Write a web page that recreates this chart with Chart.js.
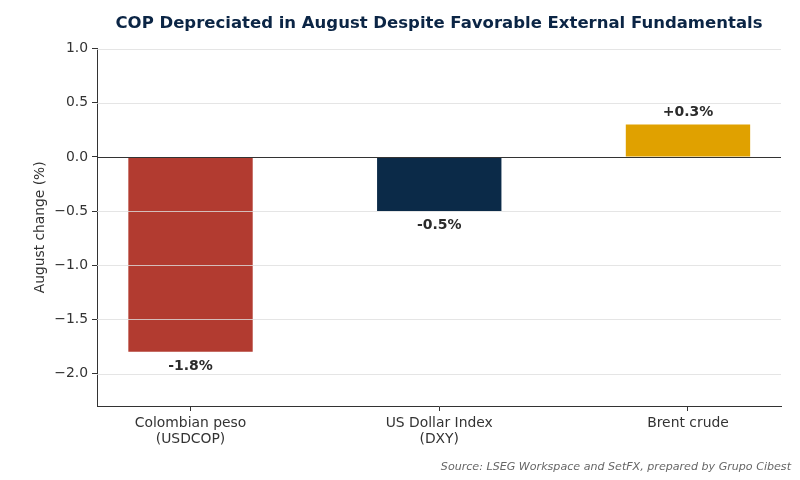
<!DOCTYPE html>
<html>
<head>
<meta charset="utf-8">
<script src="https://cdn.jsdelivr.net/npm/chart.js@4"></script>
<style>
  html, body { margin: 0; padding: 0; background: #fff; }
  #wrap { width: 800px; height: 480px; }
</style>
</head>
<body>
<div id="wrap"><canvas id="chart" width="800" height="480"></canvas></div>
<script>
// ===== data =====
const categories = [['Colombian peso', '(USDCOP)'], ['US Dollar Index', '(DXY)'], 'Brent crude'];
const augustChange = [-1.8, -0.5, 0.3];
const valueLabels = ['-1.8%', '-0.5%', '+0.3%'];
const barColors = ['#b23b30', '#0b2a48', '#e0a100'];
const yTicks = [1.0, 0.5, 0.0, -0.5, -1.0, -1.5, -2.0];

const titleText = 'COP Depreciated in August Despite Favorable External Fundamentals';
const yAxisTitle = 'August change (%)';
const sourceText = 'Source: LSEG Workspace and SetFX, prepared by Grupo Cibest';

const FONT = '"DejaVu Sans", sans-serif';

// grid over the bars, zero line, value labels and texts
const overlay = {
    id: 'overlay',
    afterDatasetsDraw(chart) {
        const c = chart.ctx;
        const area = chart.chartArea;
        const y = chart.scales.y;
        c.save();
        // gridlines
        c.lineWidth = 0.8;
        c.strokeStyle = '#dedede';
        yTicks.forEach(v => {
            if (v === 0) return;
            const py = Math.round(y.getPixelForValue(v)) + 0.5;
            c.beginPath();
            c.moveTo(area.left, py);
            c.lineTo(area.right, py);
            c.stroke();
        });
        // zero line
        const zy = Math.round(y.getPixelForValue(0)) + 0.5;
        c.lineWidth = 1;
        c.strokeStyle = '#333333';
        c.beginPath();
        c.moveTo(area.left, zy);
        c.lineTo(area.right, zy);
        c.stroke();

        // value labels
        const meta = chart.getDatasetMeta(0);
        c.font = 'bold 14px ' + FONT;
        c.fillStyle = '#2b2b2b';
        c.textAlign = 'center';
        c.textBaseline = 'middle';
        meta.data.forEach((bar, i) => {
            const off = augustChange[i] < 0 ? 14.5 : -12.5;
            c.fillText(valueLabels[i], bar.x, bar.y + off);
        });
        c.restore();
    },
    afterDraw(chart) {
        const c = chart.ctx;
        const area = chart.chartArea;
        c.save();
        c.textBaseline = 'middle';
        // title
        c.font = 'bold 16.5px ' + FONT;
        c.fillStyle = '#0b2545';
        c.textAlign = 'center';
        c.fillText(titleText, (area.left + area.right) / 2, 24);
        // y axis title
        c.font = '13.8px ' + FONT;
        c.fillStyle = '#333333';
        c.translate(40, (area.top + area.bottom) / 2);
        c.rotate(-Math.PI / 2);
        c.fillText(yAxisTitle, 0, 0);
        c.restore();
        // source
        c.save();
        c.font = 'italic 11.1px ' + FONT;
        c.fillStyle = '#666666';
        c.textAlign = 'right';
        c.textBaseline = 'middle';
        c.fillText(sourceText, 791, 467);
        c.restore();
    }
};

const ctx = document.getElementById('chart').getContext('2d');
new Chart(ctx, {
    type: 'bar',
    data: {
        datasets: [{
            data: augustChange.map((v, i) => ({ x: i, y: v })),
            backgroundColor: barColors,
            borderWidth: 0,
            barPercentage: 0.5,
            categoryPercentage: 1.0
        }]
    },
    options: {
        responsive: false,
        animation: false,
        devicePixelRatio: 1,
        layout: { padding: { top: 48.6, right: 19, bottom: 0, left: 0 } },
        plugins: {
            legend: { display: false },
            title: { display: false },
            tooltip: { enabled: false }
        },
        scales: {
            x: {
                type: 'linear',
                offset: false,
                min: -0.376,
                max: 2.374,
                afterBuildTicks: s => { s.ticks = categories.map((_, i) => ({ value: i })); },
                afterFit: s => { s.height = 74; },
                ticks: {
                    callback: v => categories[v],
                    font: { family: FONT, size: 13.9, lineHeight: 1.12 },
                    color: '#333333',
                    padding: 5,
                    maxRotation: 0,
                    autoSkip: false
                },
                grid: {
                    display: true,
                    offset: false,
                    drawOnChartArea: false,
                    drawTicks: true,
                    tickLength: 5,
                    tickColor: '#333333'
                },
                border: { display: true, color: '#333333', width: 1 }
            },
            y: {
                min: -2.3,
                max: 1.0,
                afterBuildTicks: s => { s.ticks = yTicks.map(v => ({ value: v })); },
                afterFit: s => { s.width = 97; },
                ticks: {
                    callback: v => v.toFixed(1).replace('-', '\u2212'),
                    font: { family: FONT, size: 13.9 },
                    color: '#333333',
                    padding: 4
                },
                grid: {
                    display: true,
                    drawOnChartArea: false,
                    drawTicks: true,
                    tickLength: 5,
                    tickColor: '#333333'
                },
                border: { display: true, color: '#333333', width: 1 }
            }
        }
    },
    plugins: [overlay]
});
</script>
</body>
</html>
